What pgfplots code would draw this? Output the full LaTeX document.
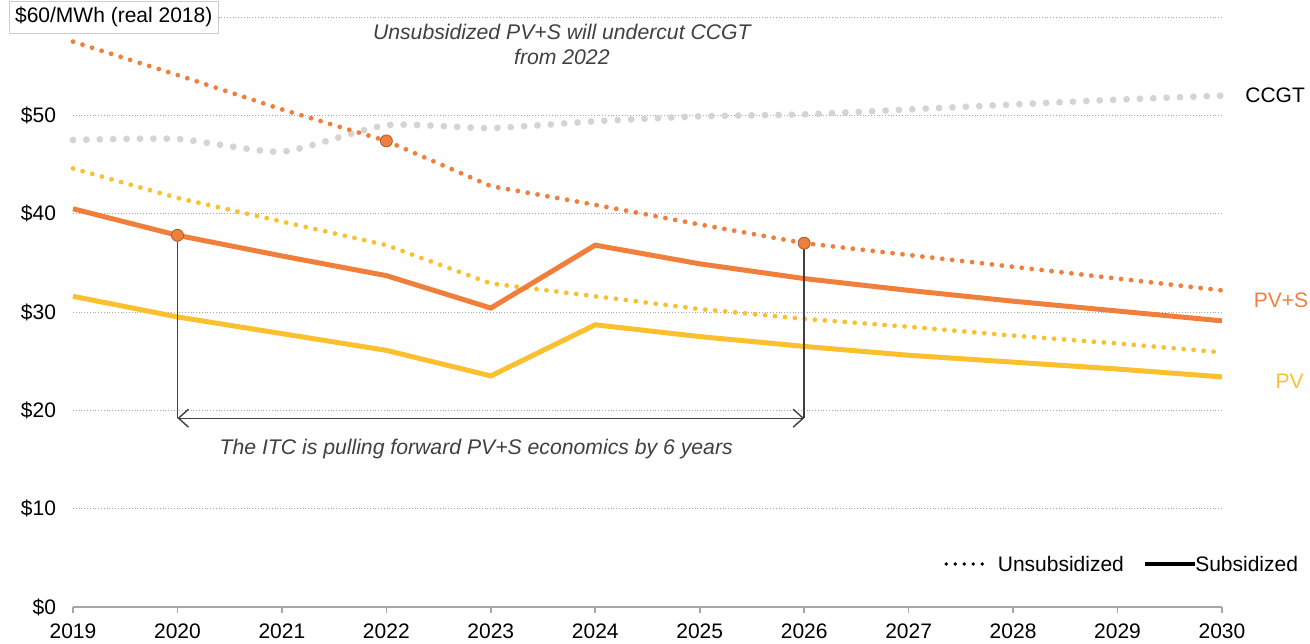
\documentclass[border=0pt]{standalone}
\usepackage{pgfplots}
\pgfplotsset{compat=1.18}
\usepackage{fontspec}
\setmainfont{Liberation Sans}
\usetikzlibrary{arrows.meta}
\definecolor{pvs}{HTML}{F07F3C}
\definecolor{pv}{HTML}{FBC02D}
\definecolor{ccgt}{HTML}{D4D4D4}
\definecolor{note}{HTML}{404040}
\definecolor{axisgray}{HTML}{A6A6A6}

\begin{document}
\begin{tikzpicture}
\useasboundingbox (0,0) rectangle (655pt,321.5pt);
\begin{axis}[
    at={(36.5pt,18pt)}, anchor=south west,
    scale only axis,
    width=574.5pt, height=295pt,
    xmin=2019, xmax=2030,
    ymin=0, ymax=60,
    clip=false,
    axis x line*=bottom,
    axis y line*=left,
    y axis line style={draw=none},
    x axis line style={draw=axisgray, line width=0.8pt},
    xtick={2019,2020,...,2030},
    xticklabel style={/pgf/number format/1000 sep=, /pgf/number format/assume math mode=true, font=\fontsize{10.5}{12}\selectfont, yshift=-2pt},
    tick align=outside,
    major tick length=3pt,
    xtick style={draw=axisgray, line width=0.8pt},
    ytick={0,10,...,60},
    yticklabels={\$0,\$10,\$20,\$30,\$40,\$50,},
    yticklabel style={font=\fontsize{10.5}{12}\selectfont, xshift=-2pt},
    ytick style={draw=none},
    ymajorgrids,
    major grid style={densely dotted, draw=gray!70, line width=0.4pt},
]
% CCGT unsubsidized
\addplot[ccgt, line width=3.4pt, line cap=round, dash pattern=on 0pt off 6.7pt, smooth, tension=0.35] coordinates {
(2019,47.5)(2020,47.6)(2021,46.3)(2022,49.0)(2023,48.7)(2024,49.4)(2025,49.9)(2026,50.1)(2027,50.6)(2028,51.1)(2029,51.6)(2030,52.0)};
% PV unsubsidized
\addplot[pv, line width=2.4pt, line cap=round, dash pattern=on 0pt off 5pt] coordinates {
(2019,44.6)(2020,41.6)(2021,39.2)(2022,36.8)(2023,32.9)(2024,31.6)(2025,30.3)(2026,29.3)(2027,28.5)(2028,27.6)(2029,26.8)(2030,25.9)};
% PV+S unsubsidized
\addplot[pvs, line width=2.4pt, line cap=round, dash pattern=on 0pt off 5pt] coordinates {
(2019,57.5)(2020,54.1)(2021,50.6)(2022,47.4)(2023,42.8)(2024,40.9)(2025,38.9)(2026,37.0)(2027,35.8)(2028,34.6)(2029,33.4)(2030,32.2)};
% PV subsidized
\addplot[pv, line width=2.5pt] coordinates {
(2019,31.6)(2020,29.5)(2021,27.8)(2022,26.1)(2023,23.5)(2024,28.7)(2025,27.5)(2026,26.5)(2027,25.6)(2028,24.9)(2029,24.2)(2030,23.4)};
% PV+S subsidized
\addplot[pvs, line width=2.5pt] coordinates {
(2019,40.5)(2020,37.8)(2021,35.7)(2022,33.7)(2023,30.4)(2024,36.8)(2025,34.9)(2026,33.4)(2027,32.2)(2028,31.1)(2029,30.1)(2030,29.1)};
% highlighted points
\addplot[only marks, mark=*, mark size=3pt, mark options={fill=pvs, draw=pvs!70!black, line width=0.4pt}] coordinates {
(2020,37.8)(2022,47.4)(2026,37.0)};

% ITC bracket
\draw[note, line width=0.7pt] (axis cs:2020,37.8) -- (axis cs:2020,19.2);
\draw[note, line width=0.7pt] (axis cs:2026,37.0) -- (axis cs:2026,19.2);
\draw[note, line width=0.7pt, {Straight Barb[length=5pt,width=9pt]}-{Straight Barb[length=5pt,width=9pt]}] (axis cs:2020,19.2) -- (axis cs:2026,19.2);

% annotations
\node[note, font=\fontsize{10.6}{12.5}\selectfont\itshape, align=center] at (axis cs:2023.68,57.2) {Unsubsidized PV+S will undercut CCGT\\from 2022};
\node[note, font=\fontsize{10.6}{12}\selectfont\itshape] at (axis cs:2022.86,16.1) {The ITC is pulling forward PV+S economics by 6 years};

% unit box
\node[draw=gray!40, fill=white, inner sep=3pt, font=\fontsize{10.5}{12}\selectfont] at (axis cs:2019.39,60) {\$60/MWh (real 2018)};

% series labels
\node[anchor=west, font=\fontsize{10.5}{12}\selectfont, inner sep=0pt] at (axis cs:2030.22,52.0) {CCGT};
\node[anchor=west, font=\fontsize{10.5}{12}\selectfont, inner sep=0pt, text=pvs] at (axis cs:2030.30,31.2) {PV+S};
\node[anchor=west, font=\fontsize{10.5}{12}\selectfont, inner sep=0pt, text=pv] at (axis cs:2030.51,23.0) {PV};

% legend
\draw[black, line width=1.8pt, line cap=round, dash pattern=on 0pt off 4.5pt] (axis cs:2027.36,4.37) -- (axis cs:2027.78,4.37);
\node[anchor=west, font=\fontsize{10.5}{12}\selectfont, inner sep=0pt] at (axis cs:2027.85,4.37) {Unsubsidized};
\draw[black, line width=2.2pt] (axis cs:2029.26,4.37) -- (axis cs:2029.74,4.37);
\node[anchor=west, font=\fontsize{10.5}{12}\selectfont, inner sep=0pt] at (axis cs:2029.74,4.37) {Subsidized};
\end{axis}
\end{tikzpicture}
\end{document}
